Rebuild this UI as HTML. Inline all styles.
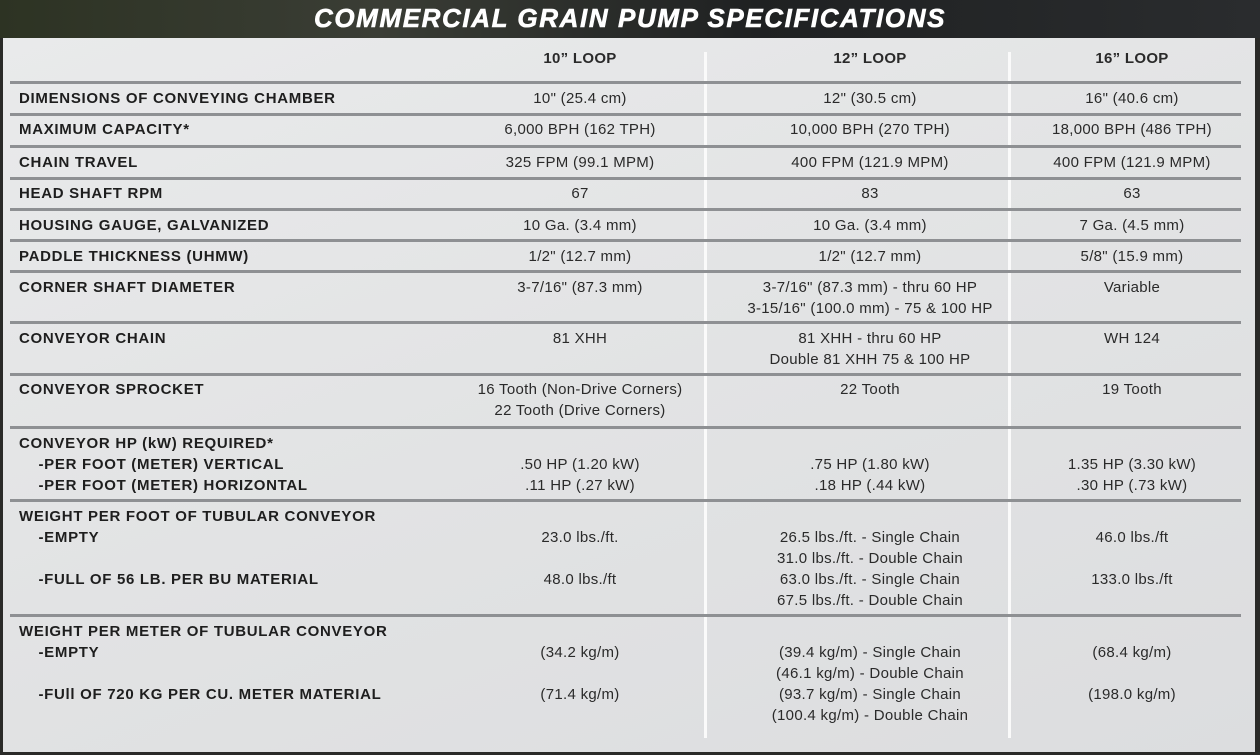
<!DOCTYPE html>
<html><head><style>
body{margin:0;width:1260px;height:755px;overflow:hidden;background:#2a2a28;font-family:"Liberation Sans",Arial,sans-serif;position:relative}
.ban{position:absolute;left:0;top:0;width:1260px;height:38px;background:linear-gradient(90deg,#2d3323,#3a3d35 30%,#1f2122 60%,#2a2c2e)}
.title{position:absolute;left:0;width:1260px;top:3px;text-align:center;color:#fff;font-weight:bold;font-style:italic;font-size:26px;letter-spacing:1.6px;-webkit-text-stroke:0.6px #fff}
.panel{position:absolute;left:3px;top:38px;width:1252px;height:714px;background:linear-gradient(160deg,#e9eaeb,#e2e3e4 50%,#dcdddf);}
.h{position:absolute;left:10px;width:1231px;height:3px;background:#8e9093}
.v{position:absolute;width:3px;top:52px;height:686px;background:#fafafa}
.t{position:absolute;font-size:15px;color:#2a2a2a;line-height:21px;white-space:nowrap;letter-spacing:0.3px}
.b{font-weight:bold;left:19px;letter-spacing:0.7px;color:#1e1e1e}
.c{text-align:center;width:300px}
</style></head><body>
<div class="ban"></div><div class="title">COMMERCIAL GRAIN PUMP SPECIFICATIONS</div>
<div class="panel"></div>
<div class="v" style="left:704px"></div><div class="v" style="left:1008px"></div>
<div class="h" style="top:81px"></div><div class="h" style="top:113px"></div><div class="h" style="top:145px"></div><div class="h" style="top:177px"></div><div class="h" style="top:208px"></div><div class="h" style="top:239px"></div><div class="h" style="top:270px"></div><div class="h" style="top:321px"></div><div class="h" style="top:373px"></div><div class="h" style="top:426px"></div><div class="h" style="top:499px"></div><div class="h" style="top:614px"></div>
<div class="t c" style="left:430px;top:48px;font-weight:bold">10” LOOP</div>
<div class="t c" style="left:720px;top:48px;font-weight:bold">12” LOOP</div>
<div class="t c" style="left:982px;top:48px;font-weight:bold">16” LOOP</div>

<div class="t b" style="top:88px">DIMENSIONS OF CONVEYING CHAMBER</div>
<div class="t c" style="left:430px;top:88px">10" (25.4 cm)</div><div class="t c" style="left:720px;top:88px">12" (30.5 cm)</div><div class="t c" style="left:982px;top:88px">16" (40.6 cm)</div>

<div class="t b" style="top:119px">MAXIMUM CAPACITY*</div>
<div class="t c" style="left:430px;top:119px">6,000 BPH (162 TPH)</div><div class="t c" style="left:720px;top:119px">10,000 BPH (270 TPH)</div><div class="t c" style="left:982px;top:119px">18,000 BPH (486 TPH)</div>

<div class="t b" style="top:152px">CHAIN TRAVEL</div>
<div class="t c" style="left:430px;top:152px">325 FPM (99.1 MPM)</div><div class="t c" style="left:720px;top:152px">400 FPM (121.9 MPM)</div><div class="t c" style="left:982px;top:152px">400 FPM (121.9 MPM)</div>

<div class="t b" style="top:183px">HEAD SHAFT RPM</div>
<div class="t c" style="left:430px;top:183px">67</div><div class="t c" style="left:720px;top:183px">83</div><div class="t c" style="left:982px;top:183px">63</div>

<div class="t b" style="top:215px">HOUSING GAUGE, GALVANIZED</div>
<div class="t c" style="left:430px;top:215px">10 Ga. (3.4 mm)</div><div class="t c" style="left:720px;top:215px">10 Ga. (3.4 mm)</div><div class="t c" style="left:982px;top:215px">7 Ga. (4.5 mm)</div>

<div class="t b" style="top:246px">PADDLE THICKNESS (UHMW)</div>
<div class="t c" style="left:430px;top:246px">1/2" (12.7 mm)</div><div class="t c" style="left:720px;top:246px">1/2" (12.7 mm)</div><div class="t c" style="left:982px;top:246px">5/8" (15.9 mm)</div>

<div class="t b" style="top:277px">CORNER SHAFT DIAMETER</div>
<div class="t c" style="left:430px;top:277px">3-7/16" (87.3 mm)</div><div class="t c" style="left:720px;top:277px">3-7/16" (87.3 mm) - thru 60 HP<br>3-15/16" (100.0 mm) - 75 &amp; 100 HP</div><div class="t c" style="left:982px;top:277px">Variable</div>

<div class="t b" style="top:328px">CONVEYOR CHAIN</div>
<div class="t c" style="left:430px;top:328px">81 XHH</div><div class="t c" style="left:720px;top:328px">81 XHH - thru 60 HP<br>Double 81 XHH 75 &amp; 100 HP</div><div class="t c" style="left:982px;top:328px">WH 124</div>

<div class="t b" style="top:379px">CONVEYOR SPROCKET</div>
<div class="t c" style="left:430px;top:379px">16 Tooth (Non-Drive Corners)<br>22 Tooth (Drive Corners)</div><div class="t c" style="left:720px;top:379px">22 Tooth</div><div class="t c" style="left:982px;top:379px">19 Tooth</div>

<div class="t b" style="top:433px">CONVEYOR HP (kW) REQUIRED*<br>&nbsp;&nbsp;&nbsp;&nbsp;-PER FOOT (METER) VERTICAL<br>&nbsp;&nbsp;&nbsp;&nbsp;-PER FOOT (METER) HORIZONTAL</div>
<div class="t c" style="left:430px;top:454px">.50 HP (1.20 kW)<br>.11 HP (.27 kW)</div><div class="t c" style="left:720px;top:454px">.75 HP (1.80 kW)<br>.18 HP (.44 kW)</div><div class="t c" style="left:982px;top:454px">1.35 HP (3.30 kW)<br>.30 HP (.73 kW)</div>

<div class="t b" style="top:506px">WEIGHT PER FOOT OF TUBULAR CONVEYOR<br>&nbsp;&nbsp;&nbsp;&nbsp;-EMPTY<br><br>&nbsp;&nbsp;&nbsp;&nbsp;-FULL OF 56 LB. PER BU MATERIAL</div>
<div class="t c" style="left:430px;top:527px">23.0 lbs./ft.<br><br>48.0 lbs./ft</div><div class="t c" style="left:720px;top:527px">26.5 lbs./ft. - Single Chain<br>31.0 lbs./ft. - Double Chain<br>63.0 lbs./ft. - Single Chain<br>67.5 lbs./ft. - Double Chain</div><div class="t c" style="left:982px;top:527px">46.0 lbs./ft<br><br>133.0 lbs./ft</div>

<div class="t b" style="top:621px">WEIGHT PER METER OF TUBULAR CONVEYOR<br>&nbsp;&nbsp;&nbsp;&nbsp;-EMPTY<br><br>&nbsp;&nbsp;&nbsp;&nbsp;-FUll OF 720 KG PER CU. METER MATERIAL</div>
<div class="t c" style="left:430px;top:642px">(34.2 kg/m)<br><br>(71.4 kg/m)</div><div class="t c" style="left:720px;top:642px">(39.4 kg/m) - Single Chain<br>(46.1 kg/m) - Double Chain<br>(93.7 kg/m) - Single Chain<br>(100.4 kg/m) - Double Chain</div><div class="t c" style="left:982px;top:642px">(68.4 kg/m)<br><br>(198.0 kg/m)</div>
</body></html>
